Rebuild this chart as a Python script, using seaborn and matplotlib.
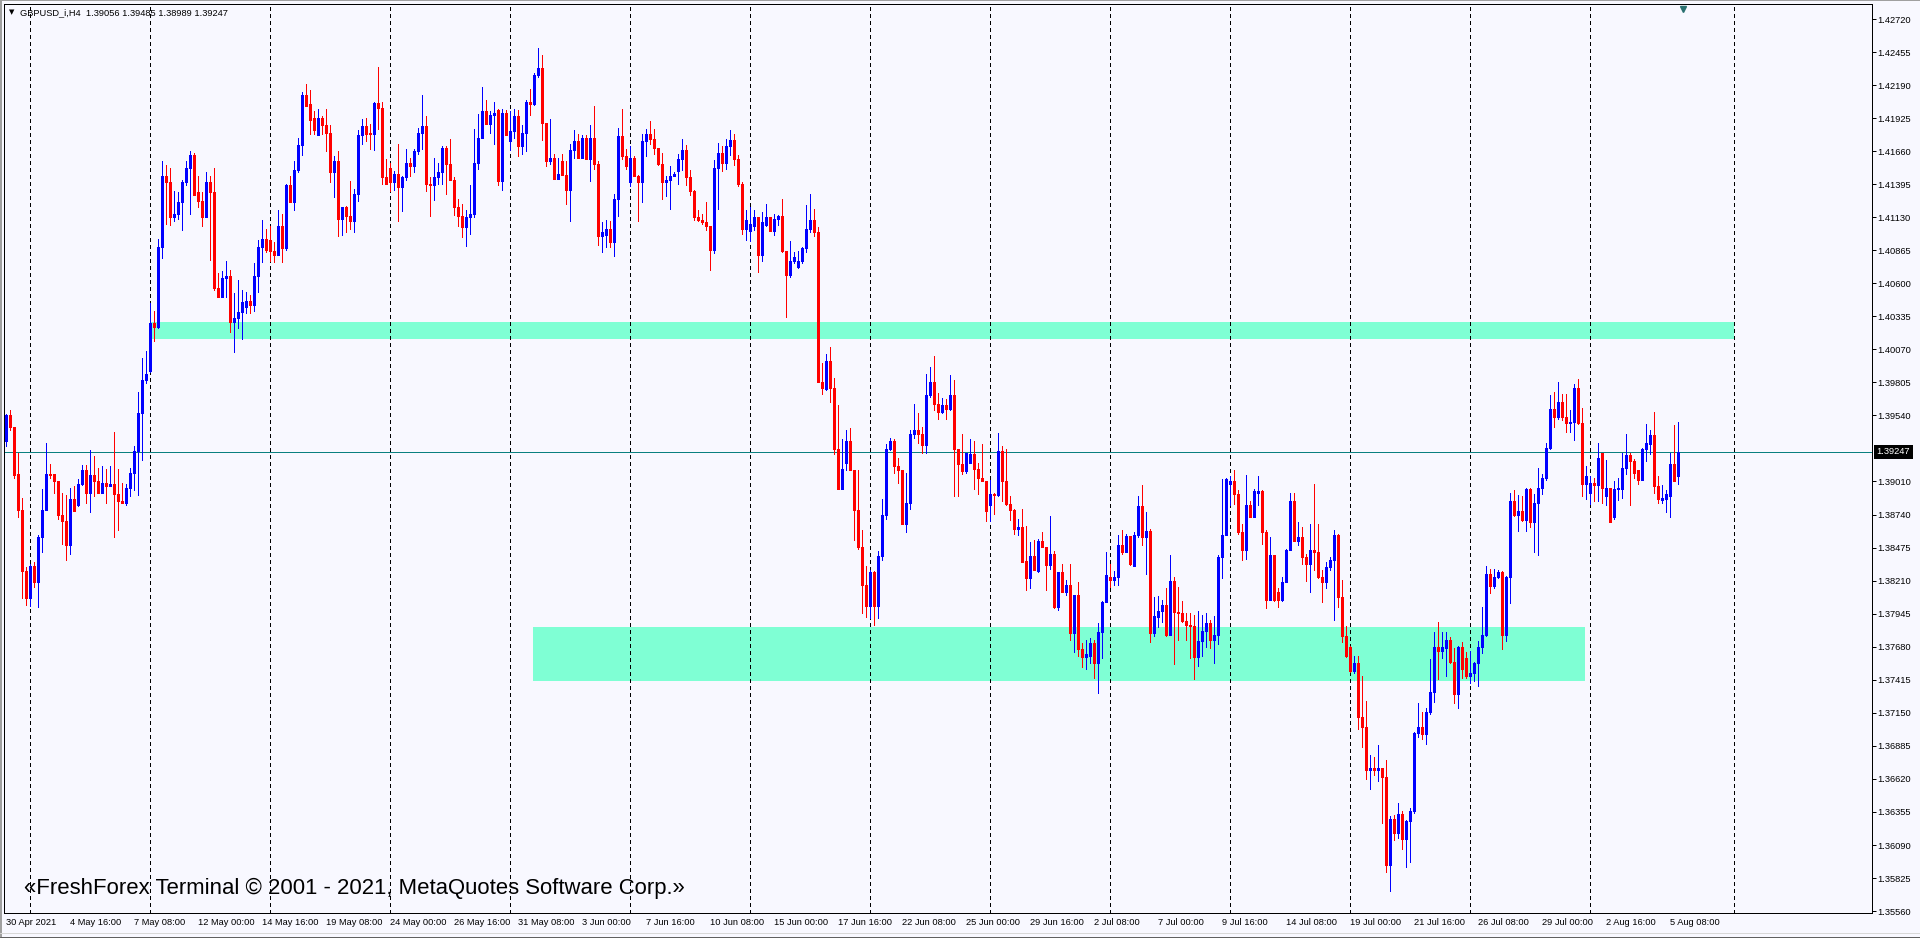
import numpy as np
import pandas as pd
import seaborn as sns
import matplotlib
matplotlib.use("Agg")
import matplotlib.pyplot as plt
from matplotlib.lines import Line2D
from matplotlib.transforms import ScaledTranslation, blended_transform_factory

# GBPUSD_i H4 bars, 30 Apr 2021 00:00 .. 5 Aug 2021 16:00, prices in 1/10000 (13954 -> 1.3954)
opens = [
    13933, 13954, 13945, 13907, 13878, 13829, 13807, 13833, 13820, 13856,
    13878, 13907, 13907, 13901, 13874, 13869, 13850, 13887, 13882, 13899,
    13910, 13892, 13906, 13901, 13892, 13900, 13897, 13899, 13891, 13885,
    13884, 13896, 13908, 13925, 13956, 13982, 13990, 14028, 14025, 14089,
    14146, 14141, 14113, 14116, 14125, 14141, 14153, 14163, 14133, 14126,
    14113, 14141, 14133, 14056, 14049, 14064, 14066, 14029, 14032, 14037,
    14041, 14046, 14043, 14066, 14089, 14096, 14095, 14086, 14083, 14106,
    14088, 14139, 14125, 14151, 14171, 14211, 14204, 14193, 14179, 14193,
    14187, 14181, 14149, 14158, 14112, 14121, 14114, 14110, 14132, 14179,
    14186, 14181, 14180, 14205, 14201, 14145, 14153, 14141, 14148, 14137,
    14145, 14157, 14154, 14166, 14181, 14186, 14140, 14139, 14145, 14149,
    14169, 14156, 14143, 14121, 14114, 14105, 14113, 14116, 14157, 14177,
    14198, 14188, 14195, 14199, 14142, 14197, 14174, 14182, 14194, 14170,
    14181, 14206, 14204, 14227, 14233, 14189, 14158, 14161, 14144, 14158,
    14147, 14135, 14167, 14174, 14161, 14177, 14160, 14177, 14156, 14098,
    14099, 14104, 14093, 14128, 14178, 14162, 14141, 14161, 14146, 14141,
    14174, 14180, 14176, 14169, 14156, 14141, 14143, 14146, 14150, 14160,
    14167, 14145, 14134, 14113, 14111, 14109, 14106, 14087, 14153, 14165,
    14157, 14170, 14175, 14160, 14140, 14104, 14102, 14106, 14113, 14083,
    14107, 14113, 14102, 14112, 14114, 14086, 14067, 14078, 14073, 14078,
    14088, 14104, 14111, 14101, 13981, 13975, 13998, 13976, 13927, 13895,
    13916, 13933, 13910, 13878, 13848, 13818, 13801, 13828, 13801, 13841,
    13874, 13927, 13933, 13913, 13910, 13867, 13884, 13939, 13942, 13939,
    13930, 13970, 13981, 13963, 13957, 13962, 13959, 13970, 13927, 13915,
    13909, 13916, 13923, 13911, 13904, 13901, 13882, 13891, 13890, 13925,
    13901, 13883, 13878, 13863, 13864, 13837, 13823, 13841, 13829, 13853,
    13848, 13834, 13843, 13800, 13828, 13812, 13818, 13779, 13810, 13766,
    13760, 13761, 13771, 13755, 13780, 13804, 13824, 13822, 13824, 13850,
    13844, 13857, 13833, 13858, 13881, 13856, 13861, 13779, 13792, 13797,
    13802, 13778, 13821, 13796, 13795, 13789, 13786, 13785, 13760, 13773,
    13781, 13787, 13774, 13778, 13840, 13858, 13899, 13901, 13891, 13860,
    13846, 13882, 13872, 13892, 13893, 13860, 13806, 13842, 13812, 13806,
    13820, 13846, 13885, 13853, 13856, 13840, 13835, 13846, 13844, 13824,
    13820, 13832, 13838, 13858, 13808, 13777, 13768, 13749, 13755, 13712,
    13704, 13669, 13671, 13669, 13671, 13664, 13593, 13630, 13619, 13634,
    13614, 13628, 13636, 13699, 13704, 13698, 13716, 13732, 13768, 13765,
    13767, 13774, 13756, 13730, 13768, 13759, 13745, 13747, 13755, 13768,
    13778, 13827, 13817, 13824, 13828, 13778, 13824, 13885, 13874, 13877,
    13870, 13895, 13868, 13884, 13896, 13904, 13928, 13959, 13953, 13965,
    13953, 13948, 13949, 13976, 13948, 13899, 13892, 13900, 13898, 13924,
    13889, 13896, 13872, 13895, 13895, 13912, 13922, 13917, 13910, 13902,
    13927, 13931, 13938, 13897, 13886, 13887, 13889, 13915, 13905.6,
]
highs = [
    13955, 13958, 13945, 13924, 13888, 13832, 13835, 13836, 13858, 13895,
    13932, 13915, 13907, 13901, 13892, 13890, 13896, 13897, 13903, 13914,
    13914, 13926, 13921, 13912, 13913, 13911, 13913, 13941, 13911, 13900,
    13899, 13912, 13929, 13973, 14000, 14006, 14044, 14038, 14096, 14158,
    14155, 14153, 14134, 14133, 14143, 14158, 14166, 14165, 14146, 14133,
    14149, 14146, 14153, 14068, 14070, 14078, 14071, 14052, 14063, 14055,
    14053, 14051, 14076, 14095, 14111, 14104, 14106, 14093, 14119, 14116,
    14140, 14146, 14158, 14177, 14214, 14220, 14215, 14198, 14200, 14194,
    14200, 14187, 14162, 14166, 14121, 14122, 14142, 14136, 14183, 14192,
    14193, 14188, 14206, 14234, 14206, 14160, 14157, 14150, 14172, 14146,
    14168, 14161, 14168, 14185, 14211, 14194, 14145, 14161, 14157, 14170,
    14170, 14176, 14145, 14128, 14124, 14119, 14139, 14184, 14196, 14218,
    14207, 14198, 14206, 14200, 14200, 14199, 14198, 14200, 14199, 14187,
    14207, 14216, 14229, 14249, 14243, 14189, 14192, 14164, 14161, 14164,
    14158, 14172, 14183, 14180, 14179, 14179, 14187, 14202, 14158, 14109,
    14111, 14110, 14132, 14185, 14200, 14168, 14170, 14162, 14147, 14180,
    14184, 14190, 14184, 14169, 14165, 14146, 14154, 14149, 14164, 14176,
    14171, 14151, 14135, 14119, 14116, 14125, 14106, 14159, 14173, 14170,
    14176, 14183, 14180, 14163, 14141, 14119, 14121, 14119, 14113, 14117,
    14124, 14113, 14116, 14115, 14128, 14086, 14094, 14085, 14086, 14089,
    14123, 14132, 14120, 14105, 13996, 14003, 14009, 13984, 13962, 13935,
    13942, 13944, 13910, 13910, 13862, 13833, 13830, 13829, 13845, 13887,
    13931, 13936, 13935, 13920, 13910, 13908, 13942, 13963, 13956, 13945,
    13987, 13993, 14002, 13972, 13968, 13967, 13986, 13982, 13927, 13939,
    13924, 13935, 13933, 13916, 13931, 13901, 13902, 13892, 13940, 13929,
    13927, 13889, 13879, 13871, 13879, 13865, 13852, 13854, 13855, 13860,
    13848, 13873, 13845, 13828, 13835, 13822, 13835, 13810, 13820, 13771,
    13774, 13775, 13774, 13787, 13805, 13844, 13835, 13829, 13858, 13862,
    13859, 13857, 13860, 13889, 13898, 13876, 13863, 13808, 13809, 13806,
    13815, 13842, 13824, 13816, 13805, 13795, 13795, 13794, 13797, 13794,
    13795, 13790, 13793, 13842, 13903, 13904, 13905, 13910, 13894, 13867,
    13906, 13885, 13895, 13905, 13894, 13862, 13856, 13842, 13815, 13824,
    13847, 13892, 13892, 13868, 13864, 13843, 13867, 13899, 13867, 13830,
    13836, 13840, 13862, 13859, 13822, 13785, 13769, 13761, 13761, 13745,
    13725, 13681, 13680, 13689, 13671, 13677, 13632, 13633, 13643, 13636,
    13629, 13639, 13700, 13723, 13716, 13719, 13758, 13780, 13788, 13780,
    13780, 13776, 13767, 13769, 13772, 13764, 13765, 13756, 13773, 13800,
    13833, 13831, 13831, 13830, 13829, 13825, 13892, 13894, 13890, 13889,
    13896, 13896, 13891, 13912, 13907, 13932, 13970, 13973, 13981, 13971,
    13971, 13958, 13979, 13983, 13960, 13913, 13905, 13904, 13932, 13924,
    13918, 13896, 13901, 13904, 13924, 13939, 13924, 13919, 13910, 13928,
    13947, 13942, 13957, 13905, 13898, 13894, 13924, 13946, 13948.5,
]
lows = [
    13929, 13942, 13904, 13872, 13807, 13802, 13801, 13816, 13800, 13844,
    13878, 13904, 13892, 13871, 13851, 13838, 13843, 13877, 13881, 13898,
    13884, 13876, 13889, 13892, 13892, 13884, 13897, 13856, 13862, 13884,
    13882, 13889, 13894, 13890, 13918, 13980, 13989, 14014, 14024, 14080,
    14108, 14107, 14110, 14112, 14103, 14139, 14116, 14131, 14121, 14106,
    14113, 14079, 14055, 14049, 14049, 14049, 14021, 14005, 14024, 14015,
    14036, 14036, 14038, 14053, 14077, 14085, 14078, 14077, 14083, 14077,
    14087, 14125, 14119, 14149, 14163, 14202, 14180, 14180, 14179, 14180,
    14166, 14141, 14129, 14098, 14099, 14101, 14104, 14101, 14126, 14172,
    14174, 14168, 14167, 14184, 14140, 14140, 14134, 14135, 14110, 14118,
    14143, 14146, 14149, 14164, 14168, 14134, 14114, 14127, 14140, 14140,
    14132, 14143, 14115, 14106, 14097, 14090, 14100, 14113, 14152, 14177,
    14188, 14181, 14172, 14139, 14135, 14179, 14167, 14177, 14162, 14164,
    14166, 14195, 14203, 14226, 14175, 14154, 14156, 14144, 14144, 14147,
    14124, 14110, 14161, 14161, 14161, 14160, 14142, 14152, 14091, 14085,
    14089, 14089, 14082, 14114, 14160, 14152, 14138, 14146, 14110, 14125,
    14162, 14172, 14164, 14155, 14128, 14130, 14120, 14146, 14140, 14151,
    14139, 14131, 14111, 14110, 14108, 14103, 14071, 14084, 14120, 14150,
    14152, 14163, 14155, 14138, 14100, 14095, 14094, 14103, 14069, 14078,
    14106, 14102, 14099, 14107, 14085, 14033, 14065, 14076, 14072, 14076,
    14085, 14101, 14098, 13981, 13971, 13974, 13965, 13923, 13895, 13895,
    13910, 13910, 13854, 13847, 13795, 13792, 13791, 13786, 13791, 13838,
    13871, 13926, 13908, 13900, 13867, 13860, 13879, 13936, 13932, 13924,
    13924, 13969, 13958, 13951, 13956, 13951, 13958, 13889, 13889, 13907,
    13908, 13916, 13895, 13891, 13901, 13869, 13869, 13875, 13889, 13885,
    13882, 13870, 13859, 13858, 13836, 13814, 13815, 13830, 13828, 13848,
    13814, 13831, 13799, 13798, 13812, 13810, 13774, 13764, 13761, 13752,
    13750, 13755, 13743, 13731, 13759, 13804, 13816, 13818, 13818, 13843,
    13844, 13834, 13833, 13856, 13850, 13827, 13772, 13777, 13784, 13788,
    13777, 13778, 13754, 13774, 13788, 13774, 13759, 13742, 13753, 13761,
    13768, 13767, 13755, 13770, 13823, 13858, 13882, 13883, 13859, 13838,
    13839, 13872, 13872, 13882, 13851, 13799, 13806, 13805, 13800, 13805,
    13820, 13846, 13853, 13850, 13835, 13821, 13812, 13830, 13823, 13804,
    13815, 13830, 13790, 13800, 13772, 13760, 13748, 13747, 13702, 13688,
    13662, 13654, 13665, 13660, 13627, 13587, 13572, 13613, 13615, 13606,
    13591, 13595, 13635, 13696, 13694, 13690, 13714, 13724, 13742, 13759,
    13745, 13755, 13723, 13719, 13743, 13743, 13739, 13741, 13737, 13763,
    13777, 13811, 13815, 13823, 13766, 13773, 13803, 13873, 13861, 13869,
    13861, 13864, 13844, 13842, 13891, 13902, 13927, 13945, 13951, 13950,
    13941, 13941, 13934, 13947, 13889, 13887, 13883, 13885, 13885, 13884,
    13882, 13868, 13871, 13886, 13888, 13907, 13882, 13904, 13899, 13902,
    13917, 13923, 13892, 13884, 13884, 13876, 13872, 13901, 13898.9,
]
closes = [
    13954, 13945, 13906, 13878, 13829, 13807, 13833, 13820, 13856, 13878,
    13907, 13906, 13901, 13874, 13869, 13850, 13887, 13877, 13899, 13910,
    13892, 13906, 13901, 13892, 13900, 13897, 13899, 13891, 13885, 13884,
    13896, 13908, 13925, 13956, 13982, 13987, 14028, 14025, 14089, 14146,
    14141, 14113, 14116, 14125, 14141, 14153, 14163, 14131, 14126, 14113,
    14141, 14133, 14056, 14049, 14064, 14066, 14029, 14032, 14037, 14045,
    14046, 14043, 14066, 14089, 14096, 14087, 14086, 14083, 14106, 14088,
    14139, 14125, 14151, 14171, 14211, 14202, 14191, 14183, 14193, 14187,
    14181, 14149, 14158, 14112, 14121, 14114, 14110, 14132, 14179, 14186,
    14180, 14180, 14205, 14201, 14145, 14140, 14141, 14148, 14137, 14145,
    14157, 14154, 14166, 14181, 14186, 14140, 14139, 14145, 14149, 14169,
    14156, 14143, 14121, 14114, 14105, 14113, 14116, 14157, 14177, 14198,
    14188, 14195, 14197, 14142, 14197, 14179, 14182, 14194, 14170, 14181,
    14206, 14204, 14227, 14233, 14189, 14158, 14161, 14144, 14148, 14147,
    14135, 14167, 14174, 14161, 14177, 14160, 14177, 14156, 14098, 14101,
    14104, 14093, 14128, 14178, 14162, 14154, 14161, 14146, 14141, 14174,
    14180, 14176, 14169, 14156, 14141, 14143, 14146, 14148, 14160, 14167,
    14145, 14134, 14113, 14111, 14109, 14106, 14087, 14153, 14165, 14157,
    14170, 14175, 14160, 14140, 14104, 14111, 14108, 14113, 14083, 14109,
    14113, 14102, 14112, 14114, 14086, 14067, 14078, 14081, 14078, 14088,
    14104, 14111, 14101, 13981, 13976, 13998, 13976, 13927, 13895, 13911,
    13933, 13910, 13878, 13848, 13818, 13801, 13828, 13801, 13841, 13874,
    13927, 13933, 13913, 13910, 13867, 13884, 13939, 13942, 13939, 13930,
    13970, 13981, 13963, 13957, 13962, 13959, 13970, 13927, 13915, 13909,
    13924, 13923, 13911, 13904, 13901, 13877, 13891, 13890, 13925, 13901,
    13883, 13878, 13863, 13864, 13836, 13823, 13841, 13830, 13853, 13848,
    13834, 13843, 13800, 13828, 13812, 13818, 13779, 13810, 13766, 13760,
    13762, 13771, 13755, 13780, 13804, 13826, 13822, 13824, 13850, 13844,
    13857, 13835, 13858, 13881, 13856, 13861, 13779, 13793, 13797, 13802,
    13778, 13821, 13796, 13795, 13789, 13786, 13785, 13760, 13773, 13781,
    13787, 13774, 13778, 13840, 13858, 13903, 13901, 13891, 13860, 13846,
    13882, 13872, 13893, 13893, 13860, 13806, 13842, 13806, 13806, 13820,
    13846, 13885, 13853, 13856, 13840, 13835, 13846, 13844, 13824, 13820,
    13832, 13838, 13858, 13808, 13777, 13761, 13749, 13755, 13712, 13704,
    13669, 13671, 13669, 13671, 13664, 13593, 13630, 13619, 13634, 13614,
    13628, 13636, 13699, 13704, 13698, 13716, 13732, 13768, 13765, 13768,
    13774, 13756, 13730, 13768, 13750, 13745, 13747, 13755, 13768, 13778,
    13827, 13817, 13824, 13828, 13778, 13824, 13885, 13874, 13877, 13870,
    13895, 13868, 13884, 13896, 13904, 13928, 13959, 13953, 13965, 13953,
    13948, 13949, 13976, 13948, 13899, 13905, 13900, 13898, 13920, 13896,
    13896, 13868, 13895, 13896, 13912, 13922, 13917, 13908, 13902, 13927,
    13932, 13938, 13897, 13887, 13888, 13891, 13915, 13901, 13924.7,
]

symbol = "GBPUSD_i,H4"
date_labels = [
    "30 Apr 2021", "4 May 16:00", "7 May 08:00", "12 May 00:00", "14 May 16:00",
    "19 May 08:00", "24 May 00:00", "26 May 16:00", "31 May 08:00", "3 Jun 00:00",
    "7 Jun 16:00", "10 Jun 08:00", "15 Jun 00:00", "17 Jun 16:00", "22 Jun 08:00",
    "25 Jun 00:00", "29 Jun 16:00", "2 Jul 08:00", "7 Jul 00:00", "9 Jul 16:00",
    "14 Jul 08:00", "19 Jul 00:00", "21 Jul 16:00", "26 Jul 08:00", "29 Jul 00:00",
    "2 Aug 16:00", "5 Aug 08:00",
]
price_ticks = [
    1.42720, 1.42455, 1.42190, 1.41925, 1.41660, 1.41395, 1.41130, 1.40865,
    1.40600, 1.40335, 1.40070, 1.39805, 1.39540, 1.39010, 1.38740, 1.38475,
    1.38210, 1.37945, 1.37680, 1.37415, 1.37150, 1.36885, 1.36620, 1.36355,
    1.36090, 1.35825, 1.35560,
]
# bar index of each Monday 00:00 (weekly period separators)
week_starts = [6, 36, 66, 96, 126, 156, 186, 216, 246, 276, 306, 336, 366, 396, 432]

# support / resistance rectangles
zone_start = [36, 131.7]
zone_end = [432, 394.8]
zone_low = [1.40153, 1.37409]
zone_high = [1.40290, 1.37840]

watermark = "«FreshForex Terminal © 2001 - 2021, MetaQuotes Software Corp.»"

BG = "#f8f8ff"
BULL = "#0000ff"
BEAR = "#ff0000"
ZONE = "#7fffd4"
BID = "#0a8080"
W, H, DPI = 1920, 938, 100
PX = 72 / DPI  # one pixel in points

sns.set_theme(style="white", rc={"axes.facecolor": BG, "figure.facecolor": BG})
plt.rcParams["font.family"] = ["Liberation Sans", "DejaVu Sans"]
plt.rcParams["lines.scale_dashes"] = False

df = pd.DataFrame({"open": opens, "high": highs, "low": lows, "close": closes}) / 1e4
df["bar"] = np.arange(len(df))
df["up"] = df["close"] >= df["open"]
df["high"] = df[["high", "open", "close"]].max(axis=1)
df["low"] = df[["low", "open", "close"]].min(axis=1)
body_hi = df[["open", "close"]].max(axis=1)
body_lo = df[["open", "close"]].min(axis=1)
body_lo = body_lo.where(body_hi - body_lo > 0.00008, body_hi - 0.00008)

fig = plt.figure(figsize=(W / DPI, H / DPI), dpi=DPI, facecolor=BG)
# plot frame in pixels: x 4..1872, y 3.5..913
ax = fig.add_axes([4 / W, (H - 913) / H, (1872 - 4) / W, (913 - 3.5) / H])
ax.set_facecolor(BG)
ax.set_xlim(-0.425, 466.575)
ax.set_ylim(1.35544, 1.42847)

for s, e, lo, hi in zip(zone_start, zone_end, zone_low, zone_high):
    ax.fill_between([s, e], [lo, lo], [hi, hi], color=ZONE, lw=0, zorder=1)

for b in week_starts:
    ax.axvline(b, color="black", lw=PX, ls=(0, (3 * PX, 3 * PX)), antialiased=False, zorder=2)

ax.axhline(df["close"].iloc[-1], color=BID, lw=PX, zorder=2.5)

colors = np.where(df["up"], BULL, BEAR)
ax.vlines(df["bar"], df["low"], df["high"], colors=colors, lw=PX, antialiased=False, zorder=3)
ax.vlines(df["bar"], body_lo, body_hi, colors=colors, lw=3 * PX, antialiased=False, zorder=4)

# axes styling
for sp in ax.spines.values():
    sp.set_color("black")
    sp.set_linewidth(PX)
ax.yaxis.tick_right()
ax.set_yticks(price_ticks)
ax.set_yticklabels([f"{v:.5f}" for v in price_ticks])
ax.set_xticks(np.arange(0, len(df), 16)[: len(date_labels)])
ax.set_xticklabels(date_labels)
ax.tick_params(axis="both", direction="out", length=4 * PX, width=PX, colors="black",
               labelsize=6.7, pad=1.2)
ax.tick_params(axis="x", pad=0.6)
shift = ScaledTranslation(0.5 / DPI, 0, fig.dpi_scale_trans)
for lab in ax.get_xticklabels():
    lab.set_horizontalalignment("left")
    lab.set_transform(lab.get_transform() + shift)
ax.grid(False)

# current bid label on the price scale
last = df.iloc[-1]
trans = blended_transform_factory(ax.transAxes, ax.transData)
ax.text(1 + 4.5 / 1868, last["close"], f"{last['close']:.5f}", transform=trans,
        ha="left", va="center", color="white", fontsize=6.7, zorder=10, clip_on=False,
        bbox=dict(boxstyle="square,pad=0.3", fc="black", ec="black", lw=0))

# chart shift marker
ax.plot([419.3], [0.994], marker="v", ms=5, color="#2a7070",
        transform=blended_transform_factory(ax.transData, ax.transAxes),
        clip_on=False, zorder=10)

# header and watermark
fig.text(12 / W, 1 - 12 / H, "▼", fontsize=5, ha="center", va="center", color="black",
         family=["DejaVu Sans"])
fig.text(20 / W, 1 - 12.5 / H,
         f"{symbol}  {last['open']:.5f} {last['high']:.5f} {last['low']:.5f} {last['close']:.5f}",
         fontsize=6.7, ha="left", va="center", color="black")
fig.text(24 / W, 1 - 888 / H, watermark, fontsize=15.9, ha="left", va="center", color="black")

# window border lines
fig.add_artist(Line2D([0, 1], [1 - 0.5 / H, 1 - 0.5 / H], transform=fig.transFigure, color="#a0a0a0", lw=PX))
fig.add_artist(Line2D([1 / W, 1 / W], [0, 1], transform=fig.transFigure, color="#a0a0a0", lw=2 * PX))
fig.add_artist(Line2D([0, 1], [1 - 933 / H, 1 - 933 / H], transform=fig.transFigure, color="#d8d8d8", lw=PX))
fig.add_artist(Line2D([0, 1], [1 - 936.5 / H, 1 - 936.5 / H], transform=fig.transFigure, color="#606060", lw=PX))

fig.savefig("out.png", dpi=DPI, facecolor=BG)
